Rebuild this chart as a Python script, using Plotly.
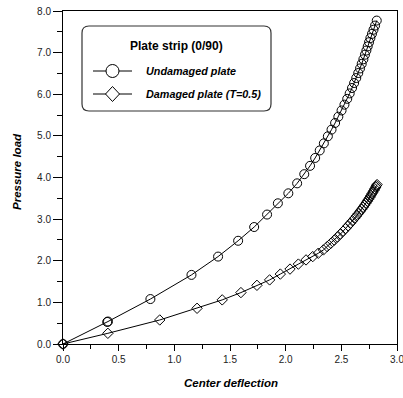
import plotly.graph_objects as go

# ---- data ----
und_x = [0.0, 0.397, 0.404, 0.785, 1.154, 1.393, 1.573, 1.717, 1.833, 1.930,
         2.024, 2.103, 2.167, 2.219, 2.265, 2.306, 2.343, 2.379, 2.412, 2.444,
         2.473, 2.502, 2.528, 2.553, 2.575, 2.596, 2.615, 2.634, 2.652, 2.668,
         2.683, 2.698, 2.712, 2.725, 2.737, 2.749, 2.761, 2.775, 2.789, 2.803, 2.818]
und_y = [0.0, 0.530, 0.540, 1.08, 1.66, 2.10, 2.48, 2.81, 3.11, 3.38,
         3.62, 3.86, 4.08, 4.28, 4.47, 4.65, 4.82, 4.99, 5.15, 5.31,
         5.46, 5.61, 5.75, 5.89, 6.02, 6.15, 6.27, 6.39, 6.51, 6.62,
         6.73, 6.84, 6.95, 7.05, 7.15, 7.25, 7.35, 7.45, 7.55, 7.65, 7.77]

dam_x = [0.0, 0.403, 0.869, 1.204, 1.430, 1.598, 1.742, 1.856, 1.952, 2.039,
         2.114, 2.183, 2.243, 2.293, 2.339, 2.373, 2.406, 2.436, 2.465, 2.491,
         2.516, 2.539, 2.561, 2.581, 2.600, 2.619, 2.636, 2.652, 2.668, 2.682,
         2.696, 2.709, 2.722, 2.733, 2.744, 2.755, 2.765, 2.775, 2.784, 2.793,
         2.801, 2.809, 2.815, 2.821]
dam_y = [0.0, 0.257, 0.577, 0.858, 1.06, 1.235, 1.41, 1.54, 1.68, 1.80,
         1.92, 2.02, 2.10, 2.18, 2.26, 2.34, 2.42, 2.495, 2.57, 2.64,
         2.71, 2.775, 2.84, 2.90, 2.96, 3.02, 3.075, 3.13, 3.185, 3.235,
         3.285, 3.335, 3.385, 3.43, 3.475, 3.52, 3.565, 3.61, 3.65, 3.69,
         3.73, 3.77, 3.80, 3.83]

series_names = ["Undamaged plate", "Damaged plate (T=0.5)"]
legend_title = "Plate strip (0/90)"
x_title = "Center deflection"
y_title = "Pressure load"
x_ticks = [0.0, 0.5, 1.0, 1.5, 2.0, 2.5, 3.0]
y_ticks = [0.0, 1.0, 2.0, 3.0, 4.0, 5.0, 6.0, 7.0, 8.0]

# ---- layout geometry ----
W, H = 403, 398
L, R, T, B = 63, 6, 11, 54
pw, ph = W - L - R, H - T - B

def px(x):
    return (x - L) / pw

def py(y):
    return (H - B - y) / ph

FONT = "Liberation Sans, Arial, sans-serif"

fig = go.Figure()
fig.add_trace(go.Scatter(
    x=und_x, y=und_y, mode="lines+markers", name=series_names[0],
    line=dict(color="black", width=1),
    marker=dict(symbol="circle-open", size=9, color="black", line=dict(width=1)),
    cliponaxis=False, showlegend=False))
fig.add_trace(go.Scatter(
    x=dam_x, y=dam_y, mode="lines+markers", name=series_names[1],
    line=dict(color="black", width=1),
    marker=dict(symbol="diamond-open", size=8, color="black", line=dict(width=1)),
    cliponaxis=False, showlegend=False))

axis_common = dict(
    showgrid=False, zeroline=False, showline=True, linecolor="black", linewidth=1,
    mirror=True, ticks="outside", tickcolor="black", tickwidth=1,
    tickfont=dict(family=FONT, size=10, color="#222"),
    tickformat=".1f", automargin=False, fixedrange=True,
    ticklabeloverflow="allow",
)
fig.update_xaxes(range=[0, 3], tickvals=x_ticks, ticklen=6,
                 minor=dict(dtick=0.25, ticklen=4, tickcolor="black", ticks="outside"),
                 **axis_common)
fig.update_yaxes(range=[0, 8], tickvals=y_ticks, ticklen=9,
                 minor=dict(dtick=0.5, ticklen=5, tickcolor="black", ticks="outside"),
                 **axis_common)

# ---- legend box (rounded) drawn manually ----
x0, x1, y0, y1, r = 82, 271, 26, 111, 7
pts = [("M", x0 + r, y0), ("L", x1 - r, y0), ("Q", x1, y0, x1, y0 + r),
       ("L", x1, y1 - r), ("Q", x1, y1, x1 - r, y1), ("L", x0 + r, y1),
       ("Q", x0, y1, x0, y1 - r), ("L", x0, y0 + r), ("Q", x0, y0, x0 + r, y0)]
path = ""
for p in pts:
    cmd = p[0]
    coords = p[1:]
    seg = []
    for i in range(0, len(coords), 2):
        seg.append(f"{px(coords[i]):.5f},{py(coords[i+1]):.5f}")
    path += cmd + " ".join(seg) + " "
path += "Z"

shapes = [dict(type="path", path=path, xref="paper", yref="paper",
               line=dict(color="#333", width=1.2), fillcolor="white", layer="above")]

item_y = [71, 94]
for yy in item_y:
    shapes.append(dict(type="line", xref="paper", yref="paper",
                       x0=px(93), x1=px(132), y0=py(yy), y1=py(yy),
                       line=dict(color="black", width=1), layer="above"))
shapes.append(dict(type="circle", xref="paper", yref="paper",
                   xsizemode="pixel", ysizemode="pixel",
                   xanchor=px(112.5), yanchor=py(item_y[0]),
                   x0=-6.5, x1=6.5, y0=-6.5, y1=6.5,
                   line=dict(color="black", width=1), fillcolor="white", layer="above"))
shapes.append(dict(type="path", xref="paper", yref="paper",
                   xsizemode="pixel", ysizemode="pixel",
                   xanchor=px(112.5), yanchor=py(item_y[1]),
                   path="M0,7.5 L7,0 L0,-7.5 L-7,0 Z",
                   line=dict(color="black", width=1), fillcolor="white", layer="above"))

annotations = [
    dict(text=f"<b>{legend_title}</b>", x=px(176.5), y=py(46), xref="paper", yref="paper",
         xanchor="center", yanchor="middle", showarrow=False,
         font=dict(family=FONT, size=12, color="black")),
    dict(text=f"<b><i>{series_names[0]}</i></b>", x=px(144), y=py(item_y[0]),
         xref="paper", yref="paper", xanchor="left", yanchor="middle", showarrow=False,
         font=dict(family=FONT, size=10.8, color="black")),
    dict(text=f"<b><i>{series_names[1]}</i></b>", x=px(144), y=py(item_y[1]),
         xref="paper", yref="paper", xanchor="left", yanchor="middle", showarrow=False,
         font=dict(family=FONT, size=10.8, color="black")),
    dict(text=f"<b><i>{x_title}</i></b>", x=px(231), y=py(383),
         xref="paper", yref="paper", xanchor="center", yanchor="middle", showarrow=False,
         font=dict(family=FONT, size=11.5, color="black")),
    dict(text=f"<b><i>{y_title}</i></b>", x=px(17), y=py(172), textangle=-90,
         xref="paper", yref="paper", xanchor="center", yanchor="middle", showarrow=False,
         font=dict(family=FONT, size=11.5, color="black")),
]

fig.update_layout(
    width=W, height=H, autosize=False,
    margin=dict(l=L, r=R, t=T, b=B, pad=0),
    paper_bgcolor="white", plot_bgcolor="white",
    shapes=shapes, annotations=annotations, showlegend=False,
)

fig.write_html("out.html", config={"displayModeBar": False})
